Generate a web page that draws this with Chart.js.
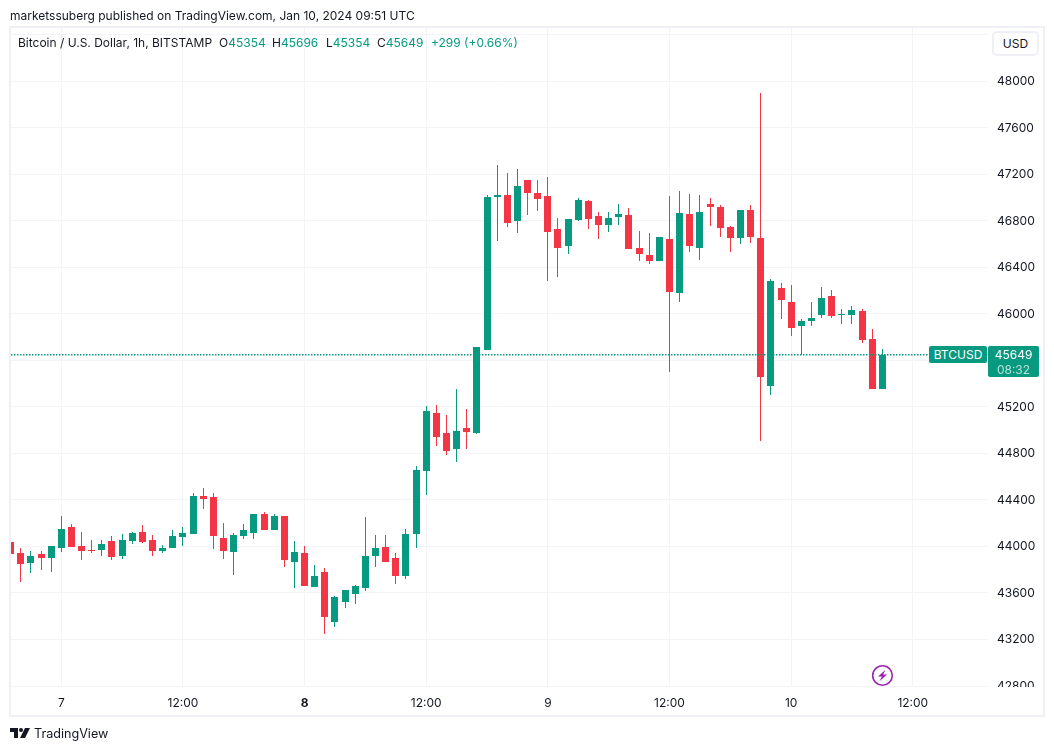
<!DOCTYPE html>
<html>
<head>
<meta charset="utf-8">
<script src="https://cdn.jsdelivr.net/npm/chart.js@4"></script>
<style>
  html, body { margin: 0; padding: 0; background: #fff; }
  #wrap { position: relative; width: 1054px; height: 751px; overflow: hidden; font-family: Inter, sans-serif; color: #131722; }
  #wrap canvas { position: absolute; left: 0; top: 0; }
  .t { position: absolute; white-space: nowrap; font-size: 12px; line-height: 16px; }
  .up { color: #089981; }
  #usd { position: absolute; left: 992px; top: 31px; width: 47px; height: 25px; box-sizing: border-box; border: 2px solid #eff0f5; border-radius: 5px; background: #fff; font-size: 12px; line-height: 21px; text-align: center; }
  #symTag { position: absolute; left: 929px; top: 346px; width: 58px; height: 17px; background: #089981; color: #fff; border-radius: 2px; font-size: 12px; line-height: 17px; text-align: center; }
  #priceTag { position: absolute; left: 988px; top: 346px; width: 51px; height: 31px; background: #089981; color: #fff; border-radius: 2px; font-size: 12px; line-height: 15px; text-align: center; padding-top: 1px; box-sizing: border-box; }
  #priceTag div + div { color: #b5e0d7; }
</style>
</head>
<body>
<div id="wrap">
  <canvas id="candles" width="1054" height="751"></canvas>
  <div class="t" style="left:10px;top:8px">marketssuberg published on TradingView.com, Jan 10, 2024 09:51 UTC</div>
  <div class="t" style="left:18px;top:35px">Bitcoin / U.S. Dollar, 1h, BITSTAMP</div>
  <div class="t" style="left:219px;top:35px">O<span class="up" id="lo"></span></div>
  <div class="t" style="left:272px;top:35px">H<span class="up" id="lh"></span></div>
  <div class="t" style="left:326px;top:35px">L<span class="up" id="ll"></span></div>
  <div class="t" style="left:377px;top:35px">C<span class="up" id="lc"></span></div>
  <div class="t up" style="left:431px;top:35px">+299 (+0.66%)</div>
  <div id="usd">USD</div>
  <div id="symTag">BTCUSD</div>
  <div id="priceTag"><div id="lastPrice"></div><div>08:32</div></div>
  <svg style="position:absolute;left:871px;top:664px" width="23" height="23" viewBox="0 0 23 23">
    <circle cx="11.5" cy="11.5" r="9.8" fill="#fff" stroke="#9c27b0" stroke-width="1.6"/>
    <path d="M14.5 5.8 L7 12.6 L10.8 12.6 L8.5 17.2 L16 10.4 L12.2 10.4 Z" fill="#9c27b0"/>
  </svg>
  <svg style="position:absolute;left:10px;top:728px" width="20" height="11" viewBox="0 0 20 11">
    <path d="M0 0 H8 V10 H4 V4 H0 Z M15 0 H20 L15 10 H10 Z" fill="#131722"/>
    <circle cx="11" cy="2" r="2" fill="#131722"/>
  </svg>
  <div class="t" style="left:34px;top:726px;font-size:12.6px">TradingView</div>
</div>
<script>
// 1h candles, hour 0 = Jan 7 00:00
var firstHour = -5;
var open = [44038,43943,43857,43934,43900,43986,44166,44003,43969,43969,44046,43917,44046,44124,44055,43960,43986,44081,44106,44433,44424,44072,43952,44089,44115,44278,44141,44261,43866,43943,43651,43780,43350,43522,43591,43642,43917,43995,43900,43745,44106,44648,45146,44974,44837,45017,44974,45688,47003,47020,46796,47149,47037,47011,46728,46582,46805,46968,46840,46762,46831,46848,46564,46504,46453,46642,46178,46857,46564,46943,46917,46745,46650,46891,46650,45378,46221,46100,45894,45937,45989,46152,45989,45989,46023,45782,45354];
var high = [44055,43986,43960,43960,44003,44261,44192,44124,44055,44055,44089,44106,44124,44184,44098,44012,44141,44166,44459,44502,44459,44201,44115,44192,44278,44295,44278,44261,44046,44003,43840,43814,43573,43625,43668,44252,44098,44098,43943,44149,44691,45206,45215,45129,45353,45181,45714,47020,47278,47209,47243,47149,47149,47175,46822,46814,46994,46977,46874,46874,46943,46908,46711,46693,46659,47011,47054,47029,47020,46994,46934,46754,46891,46934,47897,46298,46264,46246,45954,46100,46229,46203,46040,46066,46040,45868,45696];
var low = [43874,43694,43771,43797,43780,43952,43995,43883,43943,43917,43883,43891,44020,44029,43917,43943,43986,44003,44106,44321,43977,43891,43754,44063,44063,44141,44141,43823,43642,43659,43651,43247,43307,43470,43505,43616,43823,43866,43677,43720,43986,44442,44863,44785,44725,44837,44966,45688,46625,46745,46693,46848,46882,46281,46315,46513,46796,46728,46642,46702,46762,46556,46453,46427,46453,45499,46100,46530,46461,46754,46659,46530,46599,46607,44906,45301,45954,45808,45645,45894,45963,45963,45911,45911,45748,45354,45354];
var close = [43934,43848,43917,43900,44003,44149,43995,43960,43960,44020,43909,44055,44115,44038,43960,43986,44089,44115,44433,44407,44089,43960,44098,44141,44278,44141,44261,43883,43952,43659,43745,43393,43565,43625,43659,43917,43986,43866,43745,44106,44656,45164,44940,44820,44992,44983,45714,47003,47020,46779,47097,47037,46986,46702,46564,46814,46977,46814,46762,46822,46857,46556,46513,46453,46659,46186,46865,46582,46874,46917,46736,46650,46891,46659,45456,46281,46118,45877,45937,45963,46135,45980,45997,46032,45774,45354,45649];
var tickHours = [0,12,24,36,48,60,72,84];
var tickLabels = ["7","12:00","8","12:00","9","12:00","10","12:00"];
var priceTicks = [42800,43200,43600,44000,44400,44800,45200,45600,46000,46400,46800,47200,47600,48000,48400];
var lastPrice = 45649;

var upColor = '#089981', downColor = '#F23645', gridColor = '#f3f4f7';
var xLeft = -4.96, xRight = 91.42;
var colors = open.map(function(o, i){ return close[i] >= o ? upColor : downColor; });

document.getElementById('lo').textContent = open[open.length-1];
document.getElementById('lh').textContent = high[high.length-1];
document.getElementById('ll').textContent = low[low.length-1];
document.getElementById('lc').textContent = close[close.length-1];
document.getElementById('lastPrice').textContent = lastPrice;

// snaps candles to whole pixels so they stay crisp
var snapPlugin = {
  id: 'snap',
  beforeDatasetsDraw: function(chart){
    [1, 2].forEach(function(d){
      chart.getDatasetMeta(d).data.forEach(function(b){
        b.x = Math.floor(b.x) + 0.5;
        var top = Math.round(Math.min(b.y, b.base));
        var bottom = Math.max(Math.round(Math.max(b.y, b.base)), top + 1);
        b.y = top;
        b.base = bottom;
      });
    });
  }
};

// blanks the strip under the plot (42800 label is cut there) and draws the frame
var framePlugin = {
  id: 'frame',
  afterDatasetsDraw: function(chart){
    var c = chart.ctx;
    c.save();
    c.fillStyle = '#fff';
    c.fillRect(11, 687, 1033, 30);
    c.restore();
  },
  afterDraw: function(chart){
    var c = chart.ctx;
    c.save();
    c.strokeStyle = '#eff0f5';
    c.lineWidth = 2;
    c.strokeRect(10, 27, 1034, 689);
    c.restore();
  }
};

new Chart(document.getElementById('candles'), {
  type: 'bar',
  data: {
    datasets: [
      {
        type: 'line',
        data: [{x: xLeft, y: lastPrice}, {x: xRight, y: lastPrice}],
        borderColor: upColor, borderWidth: 1.5, borderDash: [1.5, 1.5],
        pointRadius: 0, order: 0
      },
      {
        data: open.map(function(o, i){ return {x: firstHour + i, y: [o, close[i]]}; }),
        backgroundColor: colors, barThickness: 7, inflateAmount: 0, grouped: false, order: 1
      },
      {
        data: high.map(function(h, i){ return {x: firstHour + i, y: [low[i], h]}; }),
        backgroundColor: colors, barThickness: 1, inflateAmount: 0, grouped: false, order: 2
      }
    ]
  },
  options: {
    responsive: false,
    animation: false,
    events: [],
    layout: { padding: { left: 11, right: 10, top: 28, bottom: 35 } },
    plugins: { legend: { display: false }, tooltip: { enabled: false } },
    scales: {
      x: {
        type: 'linear', min: xLeft, max: xRight, offset: false,
        afterFit: function(s){ s.height = 30; },
        afterBuildTicks: function(s){ s.ticks = tickHours.map(function(h){ return {value: h}; }); },
        grid: { color: gridColor, lineWidth: 1, drawTicks: false, offset: false },
        border: { display: true, color: gridColor },
        ticks: {
          z: 1, padding: 10, maxRotation: 0, autoSkip: false, color: '#131722',
          font: function(ctx){ return {family: 'Inter', size: 12, weight: ctx.tick && ctx.tick.value === 24 ? 'bold' : 'normal'}; },
          callback: function(v){ return tickLabels[tickHours.indexOf(v)]; }
        }
      },
      y: {
        position: 'right', min: 42800, max: 48460,
        afterFit: function(s){ s.width = 56; },
        afterBuildTicks: function(s){ s.ticks = priceTicks.map(function(p){ return {value: p}; }); },
        grid: { color: gridColor, lineWidth: 1, drawTicks: false },
        border: { display: false },
        ticks: {
          padding: 9, color: '#131722', autoSkip: false,
          font: {family: 'Inter', size: 12},
          callback: function(v){ return v === 48400 ? '' : String(v); }
        }
      }
    }
  },
  plugins: [snapPlugin, framePlugin]
});
</script>
</body>
</html>
